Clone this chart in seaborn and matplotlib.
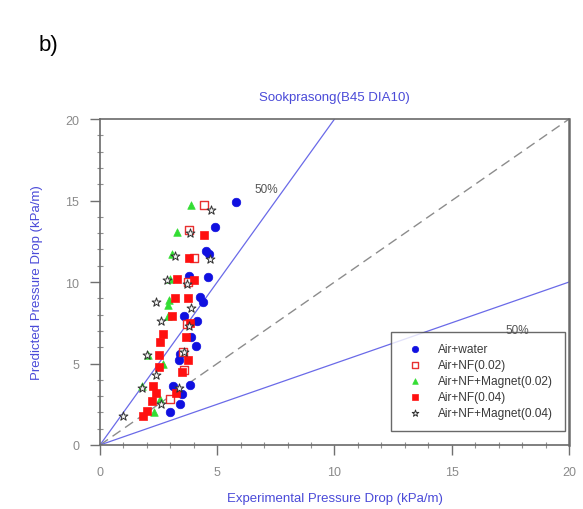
import matplotlib
matplotlib.use("Agg")
import matplotlib.pyplot as plt
from matplotlib.ticker import MultipleLocator
import seaborn as sns
import pandas as pd

# Experimental (x) vs predicted (y) pressure drop, kPa/m
water_x = [5.8, 4.9, 4.5, 4.65, 4.6, 3.8, 4.25, 4.4, 3.6, 4.15, 3.9, 4.1, 3.4, 3.35, 3.85, 3.1, 3.5, 3.4, 3.0]
water_y = [14.9, 13.4, 11.9, 11.7, 10.3, 10.4, 9.1, 8.8, 7.9, 7.6, 6.6, 6.05, 5.6, 5.2, 3.7, 3.6, 3.1, 2.5, 2.0]

nf02_x = [4.45, 3.8, 4.0, 3.75, 3.7, 3.55, 3.6, 3.0]
nf02_y = [14.7, 13.2, 11.5, 10.0, 7.4, 5.7, 4.6, 2.8]

nfm02_x = [3.9, 3.3, 3.05, 3.0, 2.95, 2.9, 2.9, 2.7, 2.05, 1.8, 2.55, 2.3]
nfm02_y = [14.7, 13.1, 11.7, 10.2, 8.9, 8.6, 7.9, 5.0, 5.5, 3.6, 2.8, 2.0]

nf04_x = [4.45, 3.8, 3.3, 4.0, 3.2, 3.75, 3.05, 3.85, 2.7, 3.65, 2.55, 2.5, 3.75, 2.5, 3.5,
          2.25, 2.4, 3.25, 2.2, 2.0, 1.85]
nf04_y = [12.9, 11.5, 10.2, 10.1, 9.0, 9.0, 7.9, 7.5, 6.8, 6.6, 6.3, 5.5, 5.2, 4.8, 4.5,
          3.6, 3.2, 3.2, 2.7, 2.1, 1.8]

nfm04_x = [4.75, 3.85, 3.2, 4.7, 2.85, 3.7, 2.4, 3.9, 2.6, 3.8, 2.0, 3.6, 2.4, 1.8, 3.35, 1.0, 2.6]
nfm04_y = [14.4, 13.0, 11.6, 11.4, 10.1, 9.9, 8.8, 8.4, 7.6, 7.3, 5.5, 5.7, 4.3, 3.5, 3.5, 1.8, 2.5]

series_names = ["Air+water", "Air+NF(0.02)", "Air+NF+Magnet(0.02)", "Air+NF(0.04)", "Air+NF+Magnet(0.04)"]
ref_x = [0, 20]

sns.set_theme(style="white")
plt.rcParams["font.family"] = ["Liberation Sans", "DejaVu Sans"]

fig = plt.figure(figsize=(5.83, 5.10), dpi=100)
ax = fig.add_axes([0.1715, 0.1255, 0.8045, 0.639])

label_blue = "#4a4ad8"
tick_grey = "#8a8a8a"

# Reference lines: +50%, perfect agreement, -50%
sns.lineplot(x=ref_x, y=[2 * v for v in ref_x], ax=ax, color="#6a6ae8", lw=0.9)
sns.lineplot(x=ref_x, y=ref_x, ax=ax, color="#8c8c8c", lw=1.0, linestyle=(0, (7, 4)))
sns.lineplot(x=ref_x, y=[0.5 * v for v in ref_x], ax=ax, color="#6a6ae8", lw=0.9)

styles = [
    (water_x, water_y, dict(marker="o", color="#1010e0", edgecolor="#1010e0", s=38)),
    (nf02_x, nf02_y, dict(marker="s", facecolor="white", edgecolor="#e83030", linewidth=1.0, s=30)),
    (nfm02_x, nfm02_y, dict(marker="^", color="#33dd33", edgecolor="#33dd33", s=30)),
    (nf04_x, nf04_y, dict(marker="s", color="#ff1010", edgecolor="#ff1010", s=36)),
    (nfm04_x, nfm04_y, dict(marker="*", facecolor="#f4f4f4", edgecolor="#303030", linewidth=0.7, s=45)),
]
for name, (xs, ys, kw) in zip(series_names, styles):
    df = pd.DataFrame({"x": xs, "y": ys})
    sns.scatterplot(data=df, x="x", y="y", ax=ax, label=name, zorder=3, **kw)

ax.set_xlim(0, 20)
ax.set_ylim(0, 20)
ax.xaxis.set_major_locator(MultipleLocator(5))
ax.yaxis.set_major_locator(MultipleLocator(5))
ax.xaxis.set_minor_locator(MultipleLocator(1))
ax.yaxis.set_minor_locator(MultipleLocator(1))
ax.tick_params(which="major", direction="out", length=7, width=1.0, color="#707070",
               labelcolor=tick_grey, labelsize=9, pad=8, bottom=True, left=True)
ax.tick_params(which="minor", direction="inout", length=4, width=0.8, color="#909090",
               bottom=True, left=True)
for side, sp in ax.spines.items():
    sp.set_color("#6a6a6a")
    sp.set_linewidth(1.2)
ax.spines["right"].set_linewidth(1.8)

ax.set_xlabel("Experimental Pressure Drop (kPa/m)", color=label_blue, fontsize=9.5, labelpad=10)
ax.set_ylabel("Predicted Pressure Drop (kPa/m)", color=label_blue, fontsize=9.5, labelpad=16)
ax.set_title("Sookprasong(B45 DIA10)", color=label_blue, fontsize=9.5, pad=14)

ax.text(6.6, 15.5, "50%", fontsize=8.5, color="#555555")
ax.text(17.3, 6.85, "50%", fontsize=8.5, color="#555555", zorder=6)

leg = ax.legend(loc="lower right", bbox_to_anchor=(0.996, 0.035), frameon=True, fancybox=False,
                edgecolor="#444444", fontsize=8.6, borderpad=1.0, handletextpad=1.0,
                labelspacing=0.33, markerscale=0.75, handlelength=1.9, borderaxespad=0.2)
leg.get_frame().set_linewidth(1.0)
leg.set_zorder(5)
for t in leg.get_texts():
    t.set_color("#3a3a3a")

fig.text(0.066, 0.9, "b)", fontsize=16, color="black")

fig.savefig("out.png", dpi=100)
